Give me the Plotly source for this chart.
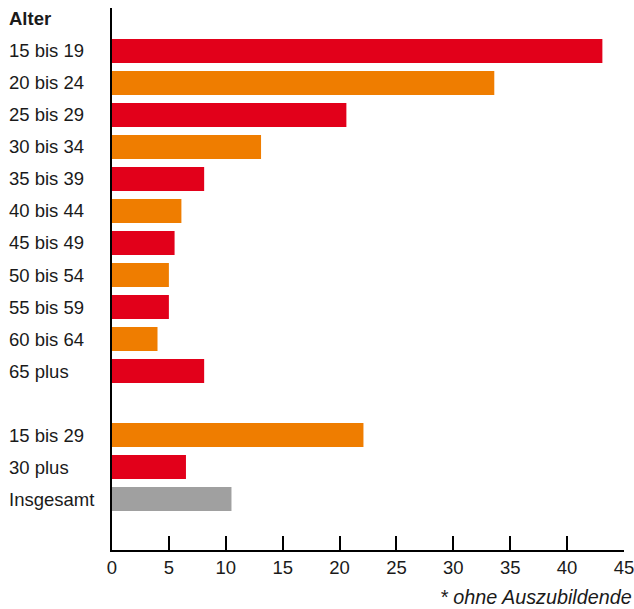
import plotly.graph_objects as go

categories = ["15 bis 19", "20 bis 24", "25 bis 29", "30 bis 34", "35 bis 39", "40 bis 44",
              "45 bis 49", "50 bis 54", "55 bis 59", "60 bis 64", "65 plus",
              "15 bis 29", "30 plus", "Insgesamt"]
positions = [0, 1, 2, 3, 4, 5, 6, 7, 8, 9, 10, 12, 13, 14]
values = [43.1, 33.6, 20.6, 13.1, 8.1, 6.1, 5.5, 5.0, 5.0, 4.0, 8.1, 22.1, 6.5, 10.5]
RED, ORANGE, GRAY = "#E2001A", "#EF7D00", "#A0A0A0"
colors = [RED, ORANGE, RED, ORANGE, RED, ORANGE, RED, ORANGE, RED, ORANGE, RED, ORANGE, RED, GRAY]
x_ticks = [0, 5, 10, 15, 20, 25, 30, 35, 40, 45]

FONT = "Liberation Sans, Arial, sans-serif"
FS = 18.5

fig = go.Figure(go.Bar(
    x=values, y=positions, orientation="h",
    marker=dict(color=colors, line=dict(width=0)),
    width=0.75, hoverinfo="x+y",
))

annotations = []
for c, p in zip(categories, positions):
    annotations.append(dict(x=-0.2051, xref="paper", y=p, yref="y", text=c,
                            showarrow=False, xanchor="left", yanchor="middle",
                            font=dict(family=FONT, size=FS, color="#1a1a1a")))
annotations.append(dict(x=-0.2051, xref="paper", y=-1, yref="y", text="<b>Alter</b>",
                        showarrow=False, xanchor="left", yanchor="middle",
                        font=dict(family=FONT, size=FS, color="#1a1a1a")))
annotations.append(dict(x=1.0195, xref="paper", y=-0.087, yref="paper",
                        text="<i>* ohne Auszubildende</i>", showarrow=False,
                        xanchor="right", yanchor="middle",
                        font=dict(family=FONT, size=19.8, color="#1a1a1a")))

fig.update_layout(
    width=634, height=609,
    margin=dict(l=112, r=10, t=8, b=59, autoexpand=False),
    plot_bgcolor="white", paper_bgcolor="white",
    showlegend=False,
    annotations=annotations,
    xaxis=dict(range=[0, 45], tickvals=x_ticks, ticks="inside", ticklen=14,
               tickwidth=1.5, tickcolor="black", showline=True, linecolor="black",
               linewidth=1.5, showgrid=False, zeroline=False, automargin=False,
               ticklabeloverflow="allow",
               tickfont=dict(family=FONT, size=FS, color="#1a1a1a")),
    yaxis=dict(range=[15.59, -1.34], showticklabels=False, ticks="",
               showline=True, linecolor="black", linewidth=1.5, automargin=False,
               showgrid=False, zeroline=False),
)

fig.write_html("out.html")
